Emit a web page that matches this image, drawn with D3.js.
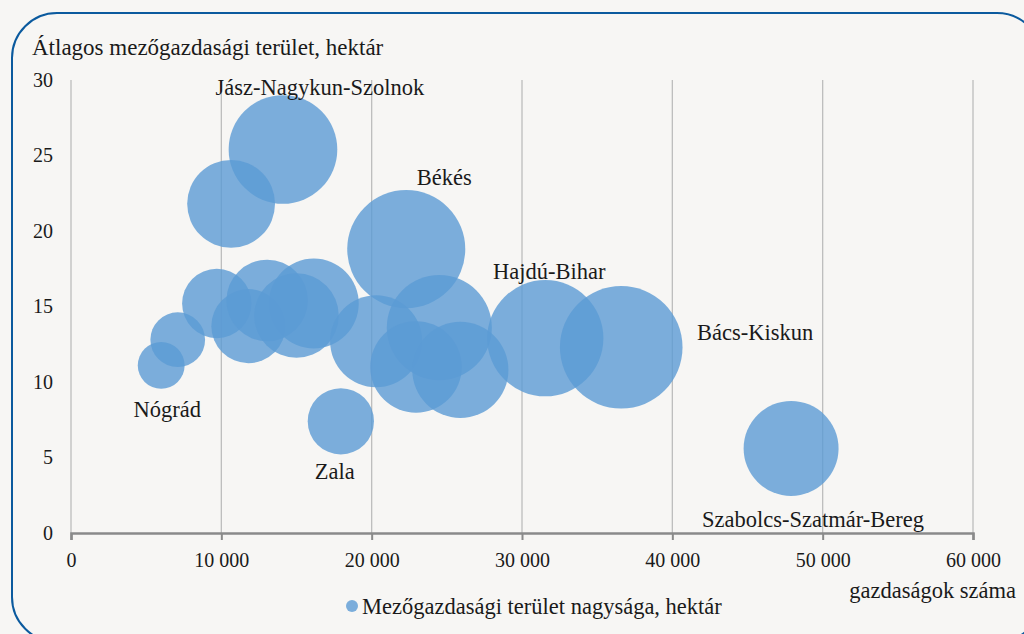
<!DOCTYPE html>
<html>
<head>
<meta charset="utf-8">
<script src="https://cdn.jsdelivr.net/npm/d3@7"></script>
<style>
  body { margin: 0; background: #f7f6f4; }
  svg { display: block; }
  text { font-family: "Liberation Serif", "DejaVu Serif", serif; fill: #1a1a1a; }
</style>
</head>
<body>
<div id="chart"></div>
<script>
// megyék (csak a feliratozottaknak van név)
const names = ['Jász-Nagykun-Szolnok', '', 'Békés', 'Nógrád', '', '', '', '', '', '', '',
  'Zala', '', '', '', 'Hajdú-Bihar', 'Bács-Kiskun', 'Szabolcs-Szatmár-Bereg'];
// gazdaságok száma
const farms = [14100, 10650, 22300, 6000, 7100, 9700, 11800, 13050, 16150, 15000, 20300,
  17950, 24500, 22950, 25900, 31550, 36600, 47900];
// átlagos mezőgazdasági terület, hektár
const avgArea = [25.4, 21.8, 18.8, 11.1, 12.8, 15.2, 13.7, 15.4, 15.2, 14.4, 12.7,
  7.4, 13.6, 11.0, 10.8, 12.9, 12.3, 5.6];
// mezőgazdasági terület nagysága, hektár (buborék mérete)
const totalArea = [355000, 232000, 419000, 66000, 90000, 145000, 165000, 200000, 243000,
  215000, 255000, 132000, 332000, 252000, 278000, 406000, 452000, 271000];
const xTicks = [0, 10000, 20000, 30000, 40000, 50000, 60000];
const yTicks = [0, 5, 10, 15, 20, 25, 30];

const width = 1024, height = 634;
const margin = { top: 80, right: 51, bottom: 101, left: 71 };

const svg = d3.select('#chart').append('svg')
  .attr('width', width)
  .attr('height', height);

svg.append('rect')
  .attr('x', 12).attr('y', 13)
  .attr('width', 1030).attr('height', 629)
  .attr('rx', 45).attr('ry', 45)
  .attr('fill', '#f7f6f4')
  .attr('stroke', '#0b5a9e')
  .attr('stroke-width', 2);

const x = d3.scaleLinear().domain([0, 60000]).range([margin.left, width - margin.right]);
const y = d3.scaleLinear().domain([0, 30]).range([height - margin.bottom, margin.top]);
const r = d3.scaleSqrt().domain([0, d3.max(totalArea)]).range([0, 61.3]);

const fmt = d => d3.format(',')(d).replace(/,/g, ' ');

// függőleges rácsvonalak
svg.append('g')
  .selectAll('line')
  .data(xTicks)
  .join('line')
  .attr('x1', d => x(d)).attr('x2', d => x(d))
  .attr('y1', y(30)).attr('y2', y(0))
  .attr('stroke', '#bdbdbd')
  .attr('stroke-width', 1.3);

// buborékok
const points = farms.map((f, i) => ({ name: names[i], x: f, y: avgArea[i], s: totalArea[i] }));
svg.append('g')
  .selectAll('circle')
  .data(points)
  .join('circle')
  .attr('cx', d => x(d.x))
  .attr('cy', d => y(d.y))
  .attr('r', d => r(d.s))
  .attr('fill', '#5b9bd5')
  .attr('fill-opacity', 0.8);

// x tengely
const xAxis = svg.append('g')
  .attr('transform', `translate(0,${y(0)})`)
  .call(d3.axisBottom(x).tickValues(xTicks).tickFormat(fmt).tickSize(7).tickPadding(13));
xAxis.select('.domain').attr('stroke', '#8a8a8a').attr('stroke-width', 2.5);
xAxis.selectAll('.tick line').attr('stroke', '#8a8a8a').attr('stroke-width', 2);
xAxis.selectAll('.tick text')
  .style('font-family', '"Liberation Serif", serif')
  .attr('font-size', 20)
  .attr('fill', '#1a1a1a');

// y tengely (csak feliratok)
const yAxis = svg.append('g')
  .attr('transform', `translate(${margin.left},0)`)
  .call(d3.axisLeft(y).tickValues(yTicks).tickSize(0).tickPadding(18));
yAxis.select('.domain').remove();
yAxis.selectAll('.tick text')
  .style('font-family', '"Liberation Serif", serif')
  .attr('font-size', 20)
  .attr('fill', '#1a1a1a');

// feliratok eltolása a buborék középpontjától
const labelOffset = {
  'Jász-Nagykun-Szolnok': [37, -62],
  'Békés': [38, -72],
  'Hajdú-Bihar': [4, -67],
  'Bács-Kiskun': [134, -15],
  'Nógrád': [6, 44],
  'Zala': [-6, 50],
  'Szabolcs-Szatmár-Bereg': [22, 71]
};
svg.append('g')
  .selectAll('text')
  .data(points.filter(d => d.name))
  .join('text')
  .attr('x', d => x(d.x) + labelOffset[d.name][0])
  .attr('y', d => y(d.y) + labelOffset[d.name][1])
  .attr('text-anchor', 'middle')
  .attr('dy', '0.35em')
  .attr('font-size', 22.5)
  .text(d => d.name);

svg.append('text')
  .attr('x', 32).attr('y', 55)
  .attr('font-size', 23)
  .text('Átlagos mezőgazdasági terület, hektár');

svg.append('text')
  .attr('x', 1016).attr('y', 590)
  .attr('dy', '0.35em')
  .attr('text-anchor', 'end')
  .attr('font-size', 22.5)
  .text('gazdaságok száma');

// jelmagyarázat
svg.append('circle')
  .attr('cx', 352).attr('cy', 606).attr('r', 6)
  .attr('fill', '#5b9bd5').attr('fill-opacity', 0.8);
svg.append('text')
  .attr('x', 362).attr('y', 606)
  .attr('dy', '0.35em')
  .attr('font-size', 22.5)
  .text('Mezőgazdasági terület nagysága, hektár');
</script>
</body>
</html>
